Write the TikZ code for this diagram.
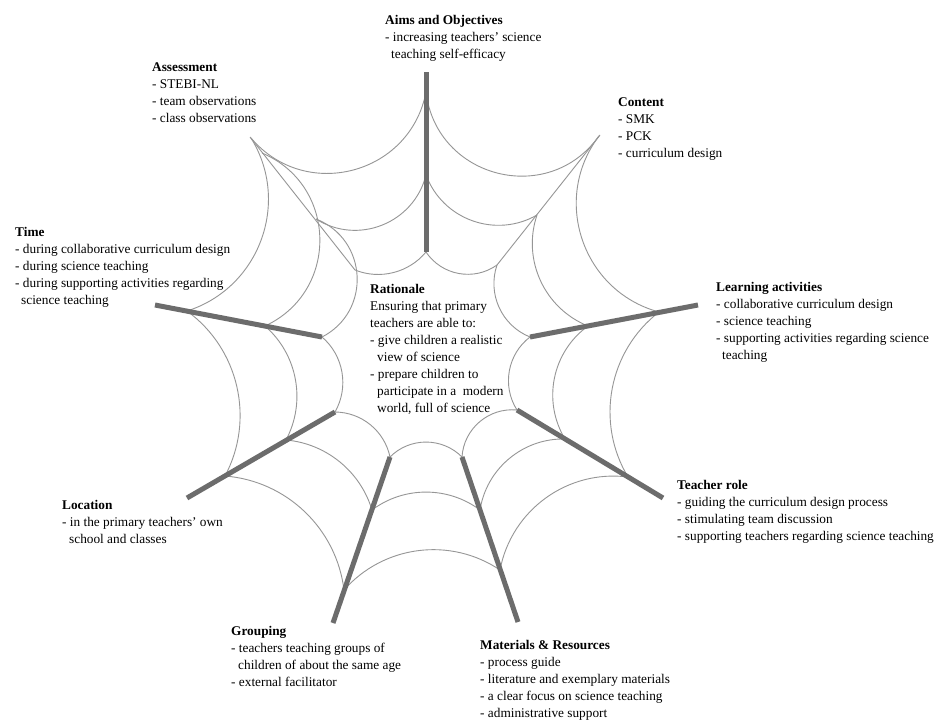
\documentclass[tikz,border=0pt]{standalone}
\usepackage{fontspec}
\setmainfont{Liberation Serif}
\usetikzlibrary{calc}
\definecolor{spokec}{RGB}{108,108,108}
\definecolor{webc}{RGB}{150,150,150}
\newcommand\warc[6]{%
  \pgfmathsetmacro\wcx{((#5-#1)/100)*((#4-#2)/100)-((#6-#2)/100)*((#3-#1)/100)}%
  \pgfmathsetmacro\wcc{((#5-#1)/100)^2+((#6-#2)/100)^2}%
  \pgfmathsetmacro\wang{-2*atan(2*\wcx/\wcc)}%
  \pgfmathsetmacro\wloose{0.8514/((cos(\wang/2))^2)}%
  \draw[webline] (#1,#2) to[bend left=\wang, looseness=\wloose] (#5,#6);}
\begin{document}
\begin{tikzpicture}[x=1pt,y=-1pt,
  webline/.style={draw=webc, line width=0.9pt},
  spoke/.style={draw=spokec, line width=5pt},
  thinspoke/.style={draw=webc, line width=0.9pt},
  lbl/.style={anchor=north west, inner sep=0pt, align=left, font=\fontsize{13.3}{17}\selectfont}]
\useasboundingbox (0,0) rectangle (937,720);
\fill[white] (0,0) rectangle (937,720);

% web arcs
% Assessment - Aims
\warc{251}{138}{327}{177}{426}{92}
\warc{316}{219}{370}{230}{426}{175}
\warc{355}{270}{380}{276}{426}{252}
% Aims - Content
\warc{426}{92}{508}{176}{599}{136}
\warc{426}{175}{498}{230}{537}{215}
\warc{426}{252}{467}{275}{497}{265}
% Content - Learning activities
\warc{599}{136}{573}{213}{659}{312}
\warc{537}{215}{530}{258}{588}{326}
\warc{497}{265}{492}{292}{530}{337}
% Learning activities - Teacher role
\warc{659}{312}{610}{400}{628}{477}
\warc{588}{326}{553}{385}{565}{439}
\warc{530}{337}{508}{378}{517}{410}
% Teacher role - Materials
\warc{628}{477}{543}{500}{500}{570}
\warc{565}{439}{505}{462}{480}{510}
\warc{517}{410}{484}{418}{462}{457}
% Materials - Grouping
\warc{500}{570}{423}{550}{344}{590}
\warc{480}{510}{427}{492}{372}{510}
\warc{462}{457}{423}{442}{390}{457}
% Grouping - Location
\warc{344}{590}{303}{510}{225}{476}
\warc{372}{510}{340}{462}{286}{440}
\warc{390}{457}{367}{422}{335}{412}
% Location - Time
\warc{225}{476}{240}{400}{187}{311}
\warc{286}{440}{297}{388}{265}{326}
\warc{335}{412}{343}{378}{322}{337}
% Time - Assessment
\warc{187}{311}{275}{203}{251}{138}
\warc{265}{326}{320}{247}{262}{153}
\warc{322}{337}{357}{273}{316}{219}

% spokes
\coordinate (assO) at (250,137); \coordinate (assI) at (355,270);
\coordinate (conO) at (600,135); \coordinate (conI) at (497,265);
\draw[thinspoke] (assO) -- (assI);
\draw[thinspoke] (conO) -- (conI);
\coordinate (aimO) at (426,72);  \coordinate (aimI) at (426,252);
\coordinate (timO) at (155,305); \coordinate (timI) at (322,337);
\coordinate (locO) at (187,498); \coordinate (locI) at (335,412);
\coordinate (groO) at (333,623); \coordinate (groI) at (390,457);
\coordinate (matO) at (518,622); \coordinate (matI) at (462,457);
\coordinate (teaO) at (663,498); \coordinate (teaI) at (517,410);
\coordinate (leaO) at (698,305); \coordinate (leaI) at (530,337);
\draw[spoke] (aimO) -- (aimI);
\draw[spoke] (timO) -- (timI);
\draw[spoke] (locO) -- (locI);
\draw[spoke] (groO) -- (groI);
\draw[spoke] (matO) -- (matI);
\draw[spoke] (teaO) -- (teaI);
\draw[spoke] (leaO) -- (leaI);

% labels
\node[lbl] (aims) at (385,15.5) {\textbf{Aims and Objectives}\\- increasing teachers’ science\\\hspace*{6pt}teaching self-efficacy};
\node[lbl] (assess) at (152,62.5) {\textbf{Assessment}\\- STEBI-NL\\- team observations\\- class observations};
\node[lbl] (content) at (618,97.5) {\textbf{Content}\\- SMK\\- PCK\\- curriculum design};
\node[lbl] (time) at (15,227.5) {\textbf{Time}\\- during collaborative curriculum design\\- during science teaching\\- during supporting activities regarding\\\hspace*{6pt}science teaching};
\node[lbl] (rationale) at (370,284.5) {\textbf{Rationale}\\Ensuring that primary\\teachers are able to:\\- give children a realistic\\\hspace*{7pt}view of science\\- prepare children to\\\hspace*{7pt}participate in a\ \ modern\\\hspace*{7pt}world, full of science};
\node[lbl] (learning) at (716,282.5) {\textbf{Learning activities}\\- collaborative curriculum design\\- science teaching\\- supporting activities regarding science\\\hspace*{6pt}teaching};
\node[lbl] (teacher) at (677,480.5) {\textbf{Teacher role}\\- guiding the curriculum design process\\- stimulating team discussion\\- supporting teachers regarding science teaching};
\node[lbl] (location) at (62,500.5) {\textbf{Location}\\- in the primary teachers’ own\\\hspace*{7pt}school and classes};
\node[lbl] (grouping) at (231,626.5) {\textbf{Grouping}\\- teachers teaching groups of\\\hspace*{7pt}children of about the same age\\- external facilitator};
\node[lbl] (materials) at (480,640.5) {\textbf{Materials \& Resources}\\- process guide\\- literature and exemplary materials\\- a clear focus on science teaching\\- administrative support};
\end{tikzpicture}
\end{document}
